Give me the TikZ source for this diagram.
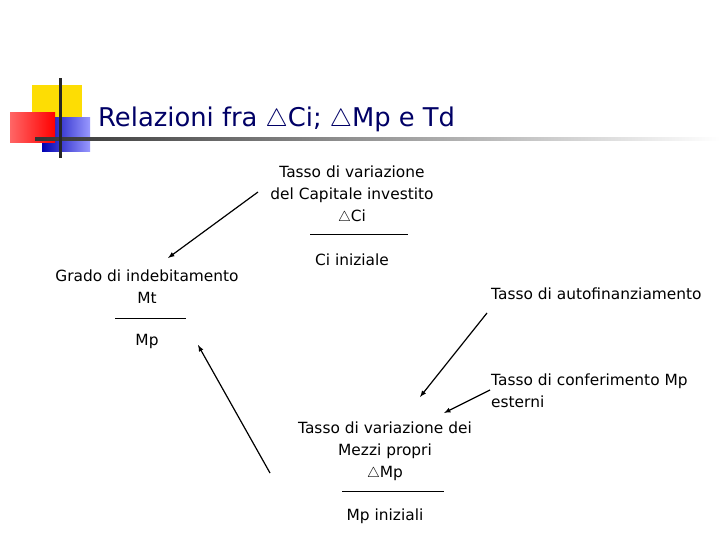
\documentclass[tikz,border=0pt]{standalone}
\usepackage{fontspec}
\setmainfont{DejaVu Sans}
\begin{document}
\begin{tikzpicture}[x=1pt,y=-1pt,
  txt/.style={font=\fontsize{15.4}{22}\selectfont, inner sep=0pt, align=center},
  arr/.style={-latex, line width=1.2pt}]
\useasboundingbox[fill=white] (0,0) rectangle (720,540);
% logo
\fill[yellow!80!orange] (32,85) rectangle (82,118);
\shade[left color=blue!70!black, right color=blue!40] (42,118) rectangle (90,152);
\shade[left color=red!60, right color=red] (10,113) rectangle (55,143);
\shade[left color=black!80, right color=white] (35,138) rectangle (720,141);
\fill[black!85] (59,78) rectangle (62,158);
\node[anchor=west, inner sep=0pt, text=blue!40!black, font=\fontsize{25.8}{30}\selectfont] (title) at (98,119) {Relazioni fra $\bigtriangleup$Ci; $\bigtriangleup$Mp e Td};
% nodes
\node[txt] (ci) at (352,195) {Tasso di variazione\\del Capitale investito\\$\bigtriangleup$Ci};
\draw (310,234) -- (408,234);
\node[txt] (cii) at (352,260) {Ci iniziale};
\node[txt] (gi) at (147,287) {Grado di indebitamento\\Mt};
\draw (115,318) -- (186,318);
\node[txt] (mp) at (147,341) {Mp};
\node[txt, anchor=west] (af) at (491,294) {Tasso di autofinanziamento};
\node[txt, anchor=west, align=left] (cf) at (491,391) {Tasso di conferimento Mp\\esterni};
\node[txt] (vm) at (385,451) {Tasso di variazione dei\\Mezzi propri\\$\bigtriangleup$Mp};
\draw (342,491) -- (444,491);
\node[txt] (mpi) at (385,516) {Mp iniziali};
% arrows
\coordinate (a1) at (258,192); \coordinate (b1) at (168,258);
\coordinate (a2) at (487,313); \coordinate (b2) at (420,397);
\coordinate (a3) at (490,390); \coordinate (b3) at (444,413);
\coordinate (a4) at (270,473); \coordinate (b4) at (198,345);
\draw[arr] (a1) -- (b1);
\draw[arr] (a2) -- (b2);
\draw[arr] (a3) -- (b3);
\draw[arr] (a4) -- (b4);
\end{tikzpicture}
\end{document}
